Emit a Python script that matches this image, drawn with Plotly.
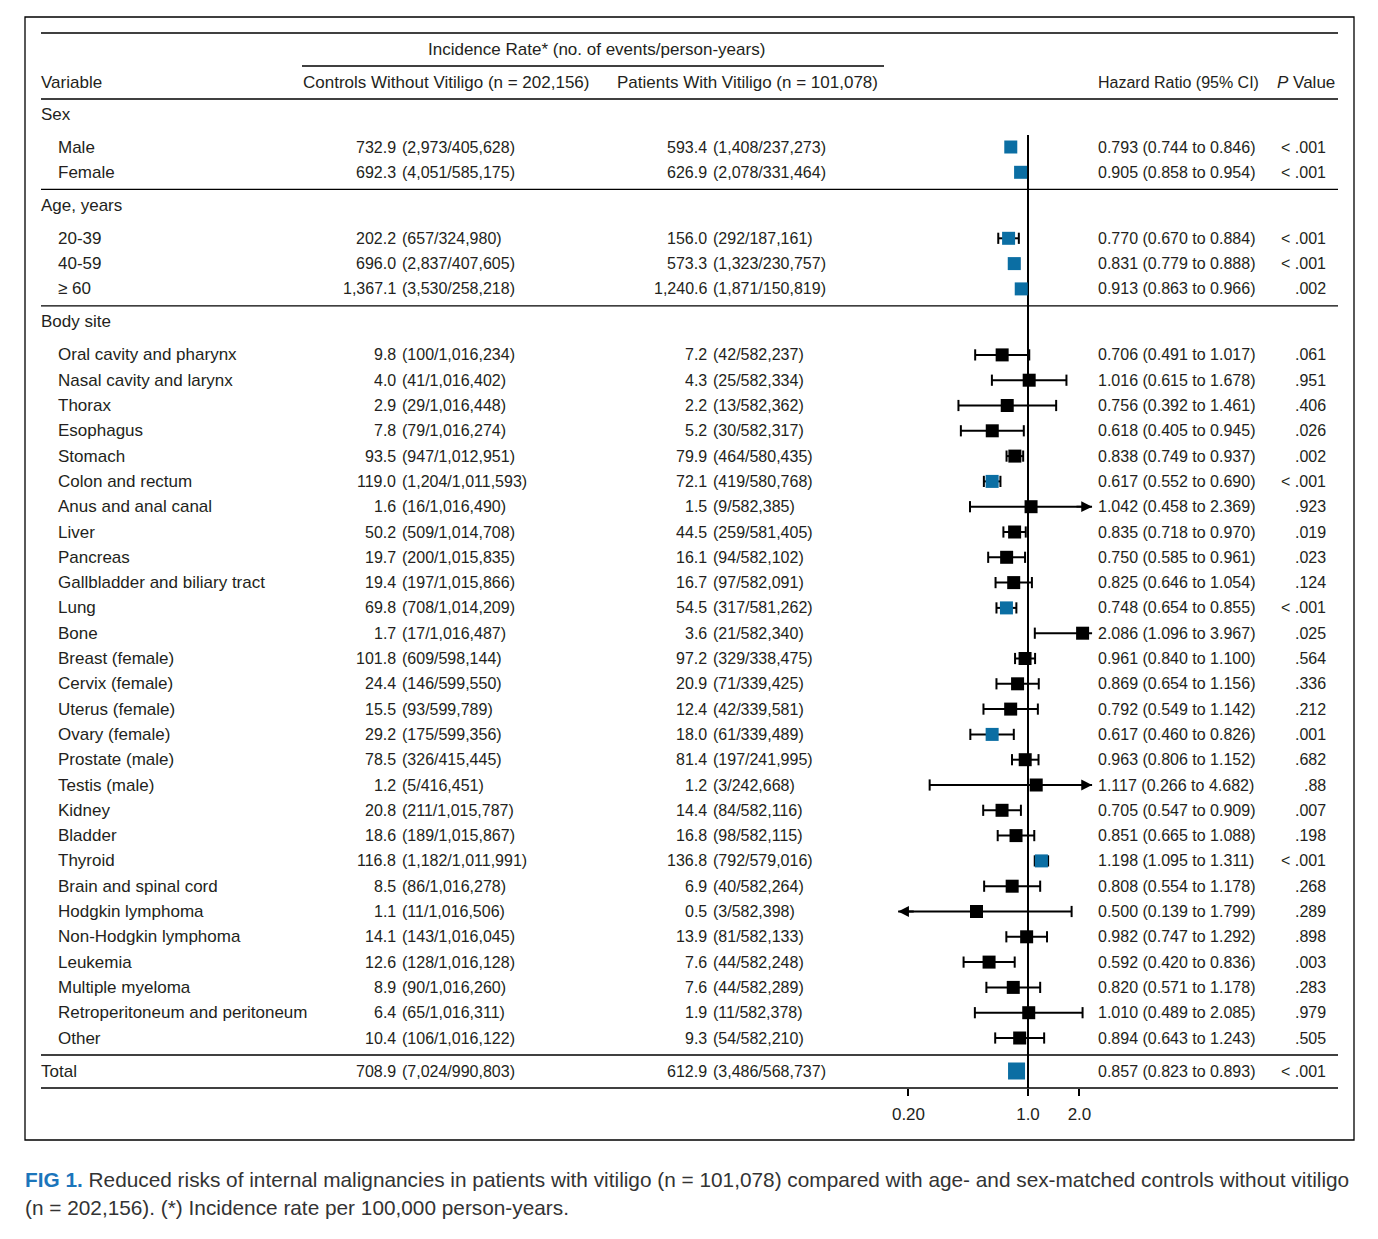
import math
import plotly.graph_objects as go

# ---------------- data ----------------
sections = ["Sex", "Age, years", "Body site"]
sex_vars = ["Male", "Female"]
age_vars = ["20-39", "40-59", "≥ 60"]
site_vars = ["Oral cavity and pharynx", "Nasal cavity and larynx", "Thorax", "Esophagus",
             "Stomach", "Colon and rectum", "Anus and anal canal", "Liver", "Pancreas",
             "Gallbladder and biliary tract", "Lung", "Bone", "Breast (female)",
             "Cervix (female)", "Uterus (female)", "Ovary (female)", "Prostate (male)",
             "Testis (male)", "Kidney", "Bladder", "Thyroid", "Brain and spinal cord",
             "Hodgkin lymphoma", "Non-Hodgkin lymphoma", "Leukemia", "Multiple myeloma",
             "Retroperitoneum and peritoneum", "Other"]
total_label = "Total"

variables = sex_vars + age_vars + site_vars + [total_label]

ctrl_rate = [732.9, 692.3, 202.2, 696.0, 1367.1,
             9.8, 4.0, 2.9, 7.8, 93.5, 119.0, 1.6, 50.2, 19.7, 19.4, 69.8, 1.7, 101.8,
             24.4, 15.5, 29.2, 78.5, 1.2, 20.8, 18.6, 116.8, 8.5, 1.1, 14.1, 12.6, 8.9,
             6.4, 10.4, 708.9]
ctrl_events = [2973, 4051, 657, 2837, 3530,
               100, 41, 29, 79, 947, 1204, 16, 509, 200, 197, 708, 17, 609, 146, 93, 175,
               326, 5, 211, 189, 1182, 86, 11, 143, 128, 90, 65, 106, 7024]
ctrl_py = [405628, 585175, 324980, 407605, 258218,
           1016234, 1016402, 1016448, 1016274, 1012951, 1011593, 1016490, 1014708,
           1015835, 1015866, 1014209, 1016487, 598144, 599550, 599789, 599356, 415445,
           416451, 1015787, 1015867, 1011991, 1016278, 1016506, 1016045, 1016128,
           1016260, 1016311, 1016122, 990803]
pat_rate = [593.4, 626.9, 156.0, 573.3, 1240.6,
            7.2, 4.3, 2.2, 5.2, 79.9, 72.1, 1.5, 44.5, 16.1, 16.7, 54.5, 3.6, 97.2, 20.9,
            12.4, 18.0, 81.4, 1.2, 14.4, 16.8, 136.8, 6.9, 0.5, 13.9, 7.6, 7.6, 1.9, 9.3,
            612.9]
pat_events = [1408, 2078, 292, 1323, 1871,
              42, 25, 13, 30, 464, 419, 9, 259, 94, 97, 317, 21, 329, 71, 42, 61, 197, 3,
              84, 98, 792, 40, 3, 81, 44, 44, 11, 54, 3486]
pat_py = [237273, 331464, 187161, 230757, 150819,
          582237, 582334, 582362, 582317, 580435, 580768, 582385, 581405, 582102, 582091,
          581262, 582340, 338475, 339425, 339581, 339489, 241995, 242668, 582116, 582115,
          579016, 582264, 582398, 582133, 582248, 582289, 582378, 582210, 568737]
hr = [0.793, 0.905, 0.770, 0.831, 0.913,
      0.706, 1.016, 0.756, 0.618, 0.838, 0.617, 1.042, 0.835, 0.750, 0.825, 0.748, 2.086,
      0.961, 0.869, 0.792, 0.617, 0.963, 1.117, 0.705, 0.851, 1.198, 0.808, 0.500, 0.982,
      0.592, 0.820, 1.010, 0.894, 0.857]
hr_lo = [0.744, 0.858, 0.670, 0.779, 0.863,
         0.491, 0.615, 0.392, 0.405, 0.749, 0.552, 0.458, 0.718, 0.585, 0.646, 0.654,
         1.096, 0.840, 0.654, 0.549, 0.460, 0.806, 0.266, 0.547, 0.665, 1.095, 0.554,
         0.139, 0.747, 0.420, 0.571, 0.489, 0.643, 0.823]
hr_hi = [0.846, 0.954, 0.884, 0.888, 0.966,
         1.017, 1.678, 1.461, 0.945, 0.937, 0.690, 2.369, 0.970, 0.961, 1.054, 0.855,
         3.967, 1.100, 1.156, 1.142, 0.826, 1.152, 4.682, 0.909, 1.088, 1.311, 1.178,
         1.799, 1.292, 0.836, 1.178, 2.085, 1.243, 0.893]
p_values = ["< .001", "< .001", "< .001", "< .001", ".002",
            ".061", ".951", ".406", ".026", ".002", "< .001", ".923", ".019", ".023",
            ".124", "< .001", ".025", ".564", ".336", ".212", ".001", ".682", ".88", ".007",
            ".198", "< .001", ".268", ".289", ".898", ".003", ".283", ".979", ".505",
            "< .001"]
highlighted = ["Male", "Female", "20-39", "40-59", "≥ 60", "Colon and rectum", "Lung",
               "Ovary (female)", "Thyroid", "Total"]
right_arrow = ["Anus and anal canal", "Testis (male)"]
left_arrow = ["Hodgkin lymphoma"]
axis_ticks = [0.2, 1.0, 2.0]
axis_ticktext = ["0.20", "1.0", "2.0"]
ci_clip = (0.174, 2.37)

# ---------------- layout helpers ----------------
W, H = 1362, 1223
OFF = 8
FONT = "Liberation Sans, Arial, sans-serif"
TXT = "#231f20"
BLUE = "#0b6ea3"
LABEL_SIZE = 17
NUM_SIZE = 16


def fx(px):
    return (px - OFF) / W


PX_PER_DEC = 171.0
ONE_PX = 1028
X_LEFT, X_RIGHT = 890, 1100
TOP_Y, BOT_Y = OFF, OFF + H

# row positions (page pixels)
pitch = 25.3
row_y = {}
header_y = {}
rule_ys = []
y = 114
for sec, items in zip(sections, [sex_vars, age_vars, site_vars]):
    header_y[sec] = y
    y0 = y + 33
    for i, it in enumerate(items):
        row_y[it] = y0 + i * pitch
    last = y0 + (len(items) - 1) * pitch
    rule_ys.append(last + 17)
    y = last + 17 + 16
row_y[total_label] = y
bottom_rule = y + 17
rule_ys.append(bottom_rule)

fig = go.Figure()

ys = [row_y[v] for v in variables]

# CI lines
lx, ly = [], []
cap_x, cap_y = [], []
for v, lo, hi, yy in zip(variables, hr_lo, hr_hi, ys):
    a = max(lo, ci_clip[0])
    b = min(hi, ci_clip[1])
    lx += [a, b, None]
    ly += [yy, yy, None]
    if lo >= ci_clip[0] and v not in left_arrow:
        cap_x.append(lo); cap_y.append(yy)
    if hi <= ci_clip[1] and v not in right_arrow:
        cap_x.append(hi); cap_y.append(yy)

fig.add_trace(go.Scatter(x=lx, y=ly, mode="lines", line=dict(color="black", width=2),
                         hoverinfo="skip", showlegend=False))
fig.add_trace(go.Scatter(x=cap_x, y=cap_y, mode="markers",
                         marker=dict(symbol="line-ns", size=8, opacity=1,
                                     line=dict(color="black", width=2)),
                         hoverinfo="skip", showlegend=False))

# reference line at HR = 1
fig.add_trace(go.Scatter(x=[1, 1], y=[row_y[sex_vars[0]] - 12, bottom_rule], mode="lines",
                         line=dict(color="black", width=2), hoverinfo="skip",
                         showlegend=False))

# squares
colors = [BLUE if v in highlighted else "black" for v in variables]
sizes = [17 if v == total_label else 13 for v in variables]
fig.add_trace(go.Scatter(x=hr, y=ys, mode="markers", opacity=1,
                         marker=dict(symbol="square", size=sizes, color=colors, opacity=1,
                                     line=dict(width=0)),
                         showlegend=False))

annotations = []

# arrows
for v, yy in zip(variables, ys):
    if v in right_arrow:
        tip = ci_clip[1]
        annotations.append(dict(x=math.log10(tip), y=yy, ax=math.log10(tip) - 0.1, ay=yy,
                                xref="x", yref="y", axref="x", ayref="y", text="",
                                showarrow=True, arrowhead=2, arrowsize=1.2,
                                arrowwidth=1.8, arrowcolor="black", standoff=0))
    if v in left_arrow:
        tip = ci_clip[0]
        annotations.append(dict(x=math.log10(tip), y=yy, ax=math.log10(tip) + 0.1, ay=yy,
                                xref="x", yref="y", axref="x", ayref="y", text="",
                                showarrow=True, arrowhead=2, arrowsize=1.2,
                                arrowwidth=1.8, arrowcolor="black", standoff=0))


def txt(x, y, s, anchor="left", size=NUM_SIZE, color=TXT, **kw):
    pad = {"left": -2, "right": 2, "center": 0}[anchor]
    annotations.append(dict(x=fx(x + pad), y=y, xref="paper", yref="y", text=s,
                            showarrow=False, xanchor=anchor, yanchor="middle",
                            font=dict(family=FONT, size=size, color=color), **kw))


# headers
txt(596, 49, "Incidence Rate* (no. of events/person-years)", anchor="center", size=LABEL_SIZE)
txt(41, 82, "Variable", size=LABEL_SIZE)
txt(303, 82, "Controls Without Vitiligo (n = 202,156)", size=LABEL_SIZE)
txt(617, 82, "Patients With Vitiligo (n = 101,078)", size=LABEL_SIZE)
txt(1259, 82, "Hazard Ratio (95% CI)", anchor="right", size=16)
txt(1277, 82, "<i>P</i> Value", size=LABEL_SIZE)

for sec in sections:
    txt(41, header_y[sec], sec, size=LABEL_SIZE)

for i, v in enumerate(variables):
    yy = ys[i]
    txt(41 if v == total_label else 58, yy, v, size=LABEL_SIZE)
    txt(396, yy, f"{ctrl_rate[i]:,.1f}", anchor="right")
    txt(402, yy, f"({ctrl_events[i]:,}/{ctrl_py[i]:,})")
    txt(707, yy, f"{pat_rate[i]:,.1f}", anchor="right")
    txt(713, yy, f"({pat_events[i]:,}/{pat_py[i]:,})")
    txt(1098, yy, f"{hr[i]:.3f} ({hr_lo[i]:.3f} to {hr_hi[i]:.3f})")
    txt(1326, yy, p_values[i], anchor="right")

# caption
txt(25, 1179, "<b><span style='color:#1b75bb'>FIG 1.</span></b> Reduced risks of internal "
    "malignancies in patients with vitiligo (n = 101,078) compared with age- and "
    "sex-matched controls without vitiligo", size=20.8, color="#333333")
txt(25, 1207, "(n = 202,156). (*) Incidence rate per 100,000 person-years.", size=20.8,
    color="#333333")

# shapes: rules and border
shapes = []


def hline(x0, x1, y, w=1.3):
    shapes.append(dict(type="line", xref="paper", yref="y", x0=fx(x0), x1=fx(x1), y0=y,
                       y1=y, line=dict(color="black", width=w)))


hline(41, 1338, 33)
hline(302, 884, 66)
hline(41, 1338, 99)
for r in rule_ys:
    hline(41, 1338, r)
shapes.append(dict(type="rect", xref="paper", yref="y", x0=fx(25), x1=fx(1354), y0=17,
                   y1=1140, line=dict(color="black", width=1.3)))

fig.update_layout(
    width=W, height=H, margin=dict(l=0, r=0, t=0, b=0),
    paper_bgcolor="white", plot_bgcolor="rgba(0,0,0,0)",
    xaxis=dict(type="log", domain=[fx(X_LEFT), fx(X_RIGHT)],
               range=[(X_LEFT - ONE_PX) / PX_PER_DEC, (X_RIGHT - ONE_PX) / PX_PER_DEC],
               anchor="free", position=1 - (bottom_rule - OFF) / H,
               tickvals=axis_ticks, ticktext=axis_ticktext, ticks="outside", ticklen=7,
               tickwidth=1.5, tickcolor="black", showline=False, showgrid=False,
               zeroline=False, tickfont=dict(family=FONT, size=17, color=TXT),
               ticklabelstandoff=4),
    yaxis=dict(range=[BOT_Y, TOP_Y], domain=[0, 1], visible=False, showgrid=False,
               zeroline=False),
    shapes=shapes, annotations=annotations, showlegend=False,
)

fig.write_html("out.html")
